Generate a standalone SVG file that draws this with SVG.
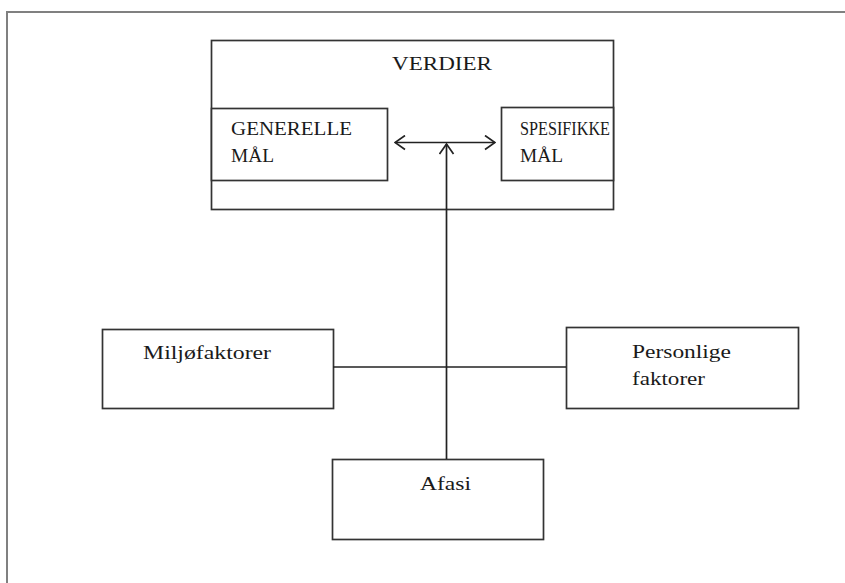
<svg xmlns="http://www.w3.org/2000/svg" width="845" height="583" viewBox="0 0 845 583">
<defs>
<style>
.box{fill:#fff;stroke:#333;stroke-width:1.7}
.ln{fill:none;stroke:#222;stroke-width:1.7}
.t{font-family:"Liberation Serif","Times New Roman",serif;font-size:19px;fill:#1a1a1a}
</style>
<marker id="ah" viewBox="0 0 12 16" refX="11" refY="8" markerWidth="12" markerHeight="16" markerUnits="userSpaceOnUse" orient="auto-start-reverse">
<path d="M1,1 L11,8 L1,15" fill="none" stroke="#222" stroke-width="1.7"/>
</marker>
</defs>
<rect width="845" height="583" fill="#fff"/>
<path d="M7,590 V12 H850" fill="none" stroke="#808080" stroke-width="2"/>
<g id="verdier">
<rect class="box" x="211.5" y="40.5" width="402" height="169"/>
<text class="t" x="392" y="70" textLength="100" lengthAdjust="spacingAndGlyphs">VERDIER</text>
</g>
<g id="generelle">
<rect class="box" x="211.5" y="108.5" width="176" height="72"/>
<text class="t" x="231" y="135" textLength="121" lengthAdjust="spacingAndGlyphs">GENERELLE</text>
<text class="t" x="231" y="162" textLength="43" lengthAdjust="spacingAndGlyphs">MÅL</text>
</g>
<g id="spesifikke">
<rect class="box" x="501.5" y="107.5" width="112" height="73"/>
<text class="t" x="520" y="135" textLength="90" lengthAdjust="spacingAndGlyphs">SPESIFIKKE</text>
<text class="t" x="520" y="162" textLength="43" lengthAdjust="spacingAndGlyphs">MÅL</text>
</g>
<g id="miljo">
<rect class="box" x="102.5" y="329.5" width="231" height="79"/>
<text class="t" x="143" y="359" textLength="128" lengthAdjust="spacingAndGlyphs">Miljøfaktorer</text>
</g>
<g id="personlige">
<rect class="box" x="566.5" y="327.5" width="232" height="81"/>
<text class="t" x="632" y="358" textLength="99" lengthAdjust="spacingAndGlyphs">Personlige</text>
<text class="t" x="632" y="385" textLength="73" lengthAdjust="spacingAndGlyphs">faktorer</text>
</g>
<g id="afasi">
<rect class="box" x="332.5" y="459.5" width="211" height="80"/>
<text class="t" x="420" y="490" textLength="51" lengthAdjust="spacingAndGlyphs">Afasi</text>
</g>
<g id="connectors">
<line class="ln" x1="395" y1="142.5" x2="495" y2="142.5" marker-start="url(#ah)" marker-end="url(#ah)"/>
<line class="ln" x1="446.5" y1="459" x2="446.5" y2="144" marker-end="url(#ah)"/>
<line class="ln" x1="333" y1="367" x2="566" y2="367"/>
</g>
</svg>
